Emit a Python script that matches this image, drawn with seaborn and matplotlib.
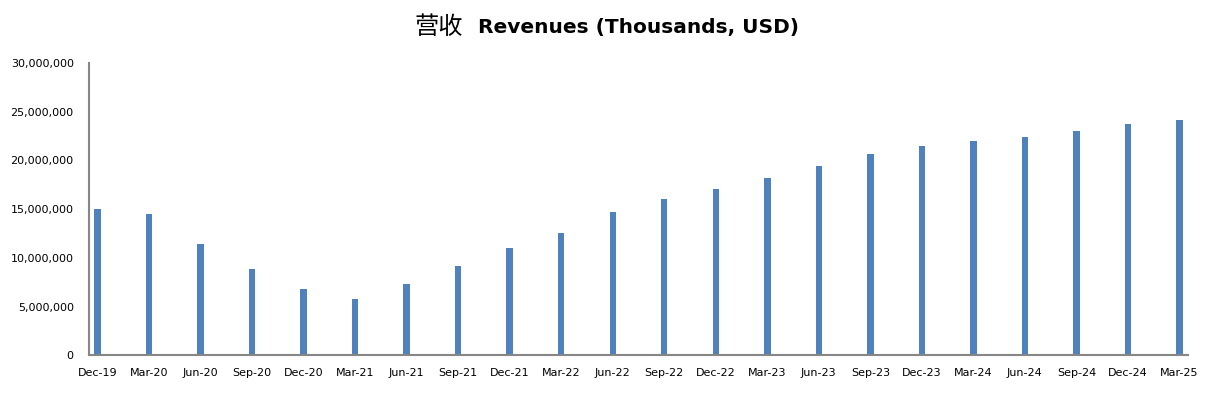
#%% IMPORTS                    ~~~~~~~~~~~~~~~~~~~~~~~~~~~~~~~~~~~~~~~~~~~~
import numpy  as np
import pandas as pd
import seaborn as sns
from   matplotlib import pyplot as plt
from   matplotlib.ticker import FuncFormatter, FixedLocator

#%% CONSTANTS                   ~~~~~~~~~~~~~~~~~~~~~~~~~~~~~~~~~~~~~~~~~~~~
quarters = ["Dec-19", "Mar-20", "Jun-20", "Sep-20", "Dec-20", "Mar-21",
            "Jun-21", "Sep-21", "Dec-21", "Mar-22", "Jun-22", "Sep-22",
            "Dec-22", "Mar-23", "Jun-23", "Sep-23", "Dec-23", "Mar-24",
            "Jun-24", "Sep-24", "Dec-24", "Mar-25"]

# revenues in thousands of USD
revenues = [15030000, 14520000, 11430000, 8870000, 6810000, 5780000,
            7330000, 9170000, 11020000, 12570000, 14720000, 16060000,
            17090000, 18220000, 19450000, 20690000, 21510000, 22020000,
            22430000, 23040000, 23760000, 24170000]

y_ticks = [0, 5000000, 10000000, 15000000, 20000000, 25000000, 30000000]

title_cn = "营收"
title_en = "Revenues (Thousands, USD)"

BAR_COLOR  = "#4F81BD"
AXIS_COLOR = "#868686"

#%% MAIN CODE                  ~~~~~~~~~~~~~~~~~~~~~~~~~~~~~~~~~~~~~~~~~~~~
sns.set_style("white")
plt.rcParams['font.family'] = ['DejaVu Sans', 'Noto Sans CJK SC']

df = pd.DataFrame({"Quarter": quarters, "Revenue": revenues})

fig = plt.figure(figsize=(12.19, 3.94), dpi=100)
ax = fig.add_axes([0.0730, 0.0982, 0.9016, 0.7419])

sns.barplot(data=df, x="Quarter", y="Revenue", color=BAR_COLOR,
            saturation=1, width=0.125, linewidth=0, ax=ax)

# date-axis look: each slot is one quarter, the bar sits in its first month
n = len(quarters)
ax.set_xlim(-1/6, n - 1 + 1/6)
ax.set_ylim(0, 30000000)
ax.set_yticks(y_ticks)
ax.yaxis.set_major_formatter(FuncFormatter(lambda v, p: f"{int(v):,}"))

ax.xaxis.set_minor_locator(FixedLocator(np.arange(n) - 1/6))
ax.tick_params(axis="x", which="major", length=0, pad=9, labelsize=8,
               labelcolor="black")
ax.tick_params(axis="x", which="minor", length=4, width=1.5,
               color=AXIS_COLOR, direction="out")
ax.tick_params(axis="y", length=5, width=1.5, color=AXIS_COLOR,
               direction="out", pad=6, labelsize=8, labelcolor="black")

ax.set_xlabel("")
ax.set_ylabel("")
ax.grid(False)
sns.despine(ax=ax)
for side in ["left", "bottom"]:
    ax.spines[side].set_color(AXIS_COLOR)
    ax.spines[side].set_linewidth(1.5)

fig.text(414/1219, 0.932, title_cn, ha="left", va="center", color="black",
         fontsize=17.5, family=['Noto Sans CJK SC', 'DejaVu Sans'])
fig.text(478/1219, 0.929, title_en, ha="left", va="center", color="black",
         fontsize=14.5, fontweight="bold", family=['DejaVu Sans'])

fig.savefig("out.png", dpi=100)
